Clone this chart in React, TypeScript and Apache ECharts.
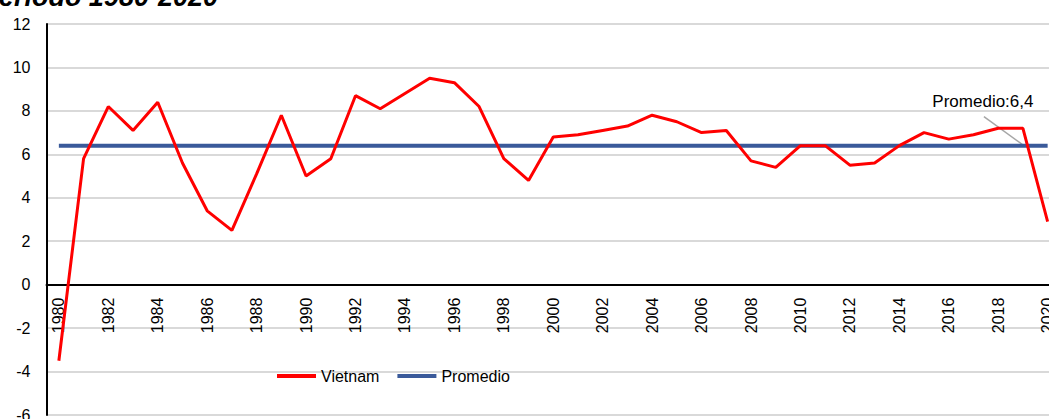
import React, { useEffect, useRef } from "react";
import * as echarts from "echarts";

const years: string[] = [
  "1980","1981","1982","1983","1984","1985","1986","1987","1988","1989",
  "1990","1991","1992","1993","1994","1995","1996","1997","1998","1999",
  "2000","2001","2002","2003","2004","2005","2006","2007","2008","2009",
  "2010","2011","2012","2013","2014","2015","2016","2017","2018","2019","2020",
];
const vietnam: number[] = [
  -3.5, 5.8, 8.2, 7.1, 8.4, 5.6, 3.4, 2.5, 5.1, 7.8,
  5.0, 5.8, 8.7, 8.1, 8.8, 9.5, 9.3, 8.2, 5.8, 4.8,
  6.8, 6.9, 7.1, 7.3, 7.8, 7.5, 7.0, 7.1, 5.7, 5.4,
  6.4, 6.4, 5.5, 5.6, 6.4, 7.0, 6.7, 6.9, 7.2, 7.2, 2.9,
];
const promedio = 6.4;
const promedioLabel = "Promedio:6,4";
const labelYear = "2019";
const titleText = "Período 1980-2020";
const yMin = -6;
const yMax = 12;

const FONT = "'Liberation Sans', Arial, sans-serif";

export default function App() {
  const ref = useRef<HTMLDivElement>(null);
  useEffect(() => {
    if (!ref.current) return;
    const chart = echarts.init(ref.current, null, { renderer: "svg" });
    const gridHeight = 391;
    const labelIdx = years.indexOf(labelYear);
    const promData = years.map(() => promedio);
    chart.setOption({
      animation: false,
      textStyle: { fontFamily: FONT },
      legend: {
        left: 272,
        top: 363,
        icon: "rect",
        itemWidth: 39,
        itemHeight: 4,
        itemGap: 18,
        itemStyle: { borderWidth: 0 },
        textStyle: { fontSize: 16, color: "#000", fontFamily: FONT },
        data: [
          { name: "Vietnam", icon: "rect" },
          { name: "Promedio", icon: "rect" },
        ],
      },
      grid: {
        left: 46.5,
        top: 24,
        width: 1013.5,
        height: gridHeight,
        containLabel: false,
        outerBoundsMode: "none",
      },
      xAxis: {
        type: "category",
        data: years,
        boundaryGap: true,
        offset: -(gridHeight * (0 - yMin)) / (yMax - yMin),
        axisLine: { onZero: false, lineStyle: { color: "#000", width: 2 } },
        axisTick: { show: false },
        axisLabel: {
          interval: 1,
          rotate: 90,
          margin: 13,
          fontSize: 16,
          color: "#000",
          fontFamily: FONT,
        },
        splitLine: { show: false },
      },
      yAxis: {
        type: "value",
        min: yMin,
        max: yMax,
        interval: 2,
        axisLine: { show: true, lineStyle: { color: "#000", width: 2 } },
        axisTick: { show: false },
        axisLabel: { fontSize: 16, color: "#000", margin: 16, fontFamily: FONT },
        splitLine: { show: true, lineStyle: { color: "#D9D9D9", width: 2 } },
      },
      series: [
        {
          name: "Vietnam",
          type: "line",
          data: vietnam,
          showSymbol: false,
          symbol: "none",
          itemStyle: { color: "#FF0000" },
          lineStyle: { color: "#FF0000", width: 3 },
          z: 3,
        },
        {
          name: "Promedio",
          type: "line",
          data: promData,
          showSymbol: false,
          symbol: "none",
          itemStyle: { color: "#3A5A9A" },
          lineStyle: { color: "#3A5A9A", width: 4 },
          z: 2,
        },
      ],
    });
    const p = chart.convertToPixel({ seriesIndex: 1 }, [labelIdx, promedio]) as number[];
    chart.setOption({
      graphic: [
        {
          type: "text",
          x: 218,
          y: -3,
          style: {
            text: titleText,
            font: "italic bold 27px 'Liberation Sans', Arial, sans-serif",
            fill: "#000",
            textAlign: "right",
            textVerticalAlign: "middle",
          },
        },
        {
          type: "line",
          z: 1,
          shape: { x1: p[0] - 39, y1: p[1] - 29, x2: p[0] + 1, y2: p[1] },
          style: { stroke: "#A6A6A6", lineWidth: 1.5 },
        },
        {
          type: "text",
          x: p[0] - 40,
          y: p[1] - 44,
          style: {
            text: promedioLabel,
            font: "17px 'Liberation Sans', Arial, sans-serif",
            fill: "#000",
            textAlign: "center",
            textVerticalAlign: "middle",
          },
        },
      ],
    });
    return () => chart.dispose();
  }, []);
  return (
    <div
      ref={ref}
      style={{ position: "absolute", left: 0, top: 0, width: 1049, height: 419 }}
    />
  );
}
